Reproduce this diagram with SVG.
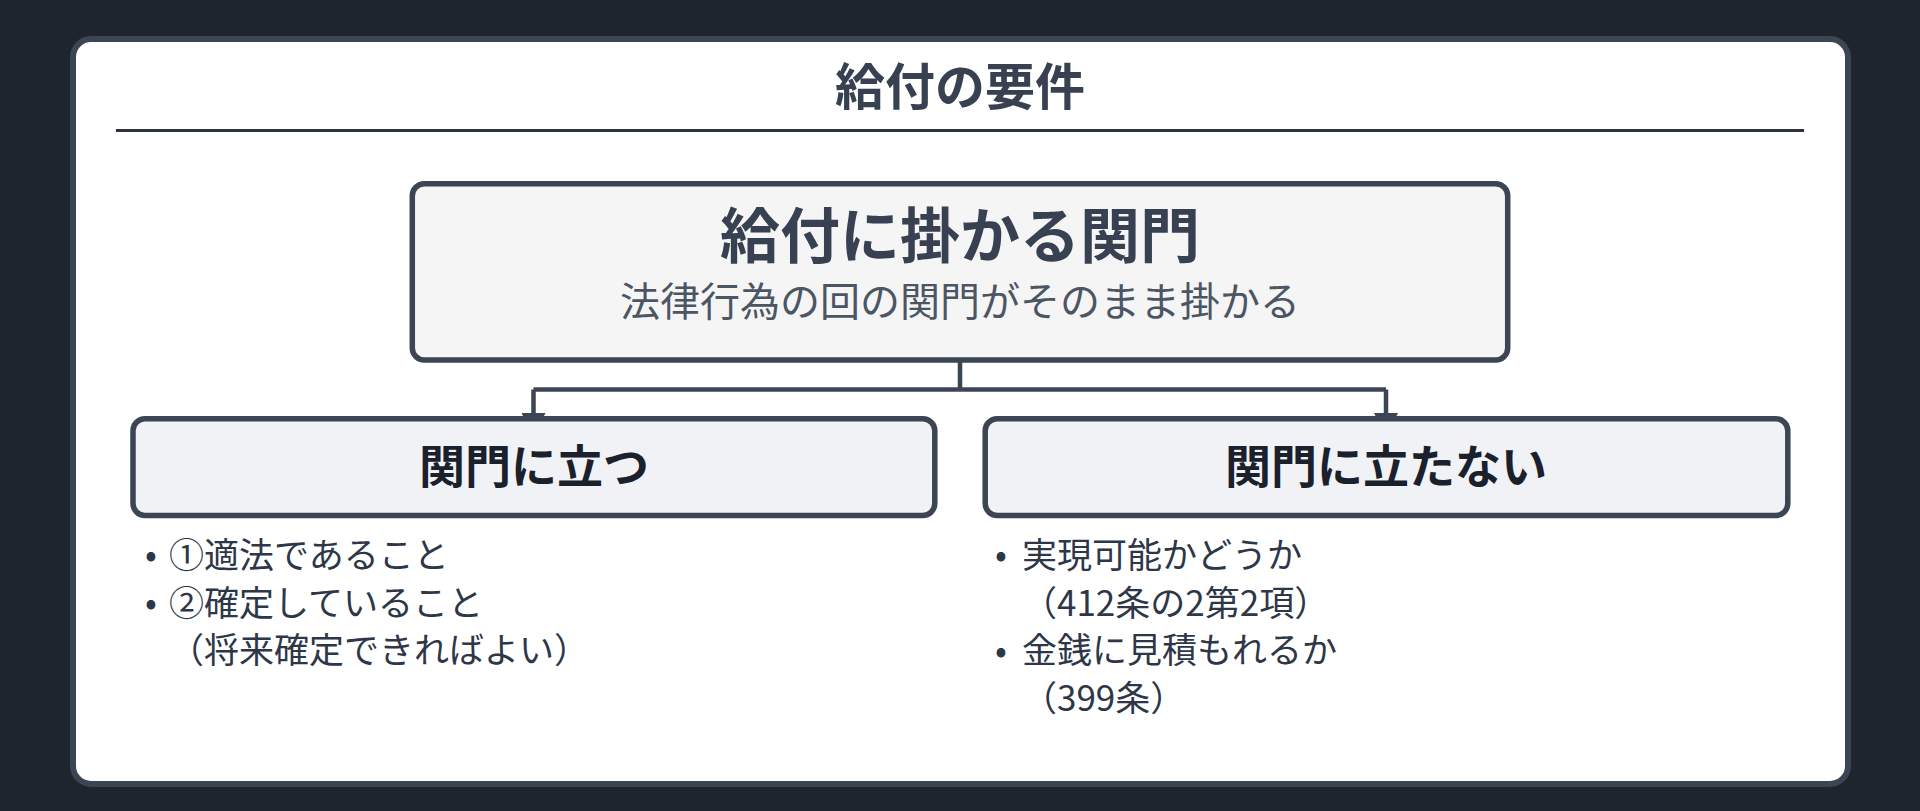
<svg xmlns="http://www.w3.org/2000/svg" width="1920" height="811" viewBox="0 0 1920 811">
  <defs>
    <style>
      text { font-family: "Noto Sans CJK JP", "Noto Sans", sans-serif; }
      .card { fill: #ffffff; stroke: #3b4554; stroke-width: 6; }
      .top { fill: #f5f5f5; stroke: #3b4554; stroke-width: 5.5; }
      .child { fill: #f0f2f5; stroke: #3b4554; stroke-width: 5.5; }
      .conn { fill: none; stroke: #3b4554; stroke-width: 4.5; }
      .h1 { font-size: 50px; font-weight: 700; fill: #374151; text-anchor: middle; }
      .t1 { font-size: 60px; font-weight: 700; fill: #374151; text-anchor: middle; }
      .sub { font-size: 40px; font-weight: 400; fill: #4b5563; text-anchor: middle; }
      .ct { font-size: 46px; font-weight: 700; fill: #1a202c; text-anchor: middle; }
      .li { font-size: 35px; font-weight: 400; fill: #2d3748; }
      .dot { font-size: 35px; fill: #2d3748; text-anchor: middle; }
    </style>
    <marker id="arrow" viewBox="0 0 10 10" refX="10" refY="5" markerUnits="userSpaceOnUse" markerWidth="24" markerHeight="24" orient="auto">
      <path d="M0,0 L10,5 L0,10 z" fill="#3b4554"/>
    </marker>
  </defs>
  <rect x="0" y="0" width="1920" height="811" fill="#1e252f"/>
  <g id="card">
    <rect class="card" x="73" y="39" width="1775" height="745" rx="18" ry="18"/>
    <text class="h1" x="960" y="105">給付の要件</text>
    <line x1="116" y1="130.5" x2="1804" y2="130.5" stroke="#2d3440" stroke-width="3"/>
  </g>
  <g id="connectors">
    <path class="conn" d="M960,362 L960,389.5 M960,389.5 L533.5,389.5 M960,389.5 L1386,389.5"/>
    <path class="conn" d="M533.5,389.5 L533.5,437" marker-end="url(#arrow)"/>
    <path class="conn" d="M1386,389.5 L1386,437" marker-end="url(#arrow)"/>
  </g>
  <g id="node-main">
    <rect class="top" x="412.3" y="183.7" width="1095.4" height="176.3" rx="12" ry="12"/>
    <text class="t1" x="960" y="258">給付に掛かる関門</text>
    <text class="sub" x="960" y="316">法律行為の回の関門がそのまま掛かる</text>
  </g>
  <g id="node-stand">
    <rect class="child" x="133" y="418.7" width="801.8" height="96.8" rx="12" ry="12"/>
    <text class="ct" x="534" y="483">関門に立つ</text>
    <text class="dot" x="151" y="567">•</text>
    <text class="li" x="169" y="568">①適法であること</text>
    <text class="dot" x="151" y="615">•</text>
    <text class="li" x="169" y="616">②確定していること</text>
    <text class="li" x="169" y="663">（将来確定できればよい）</text>
  </g>
  <g id="node-not-stand">
    <rect class="child" x="985.2" y="418.7" width="802.6" height="96.8" rx="12" ry="12"/>
    <text class="ct" x="1386" y="483">関門に立たない</text>
    <text class="dot" x="1001" y="567">•</text>
    <text class="li" x="1022" y="568">実現可能かどうか</text>
    <text class="li" x="1022" y="616">（412条の2第2項）</text>
    <text class="dot" x="1001" y="663">•</text>
    <text class="li" x="1022" y="663">金銭に見積もれるか</text>
    <text class="li" x="1022" y="711">（399条）</text>
  </g>
</svg>
